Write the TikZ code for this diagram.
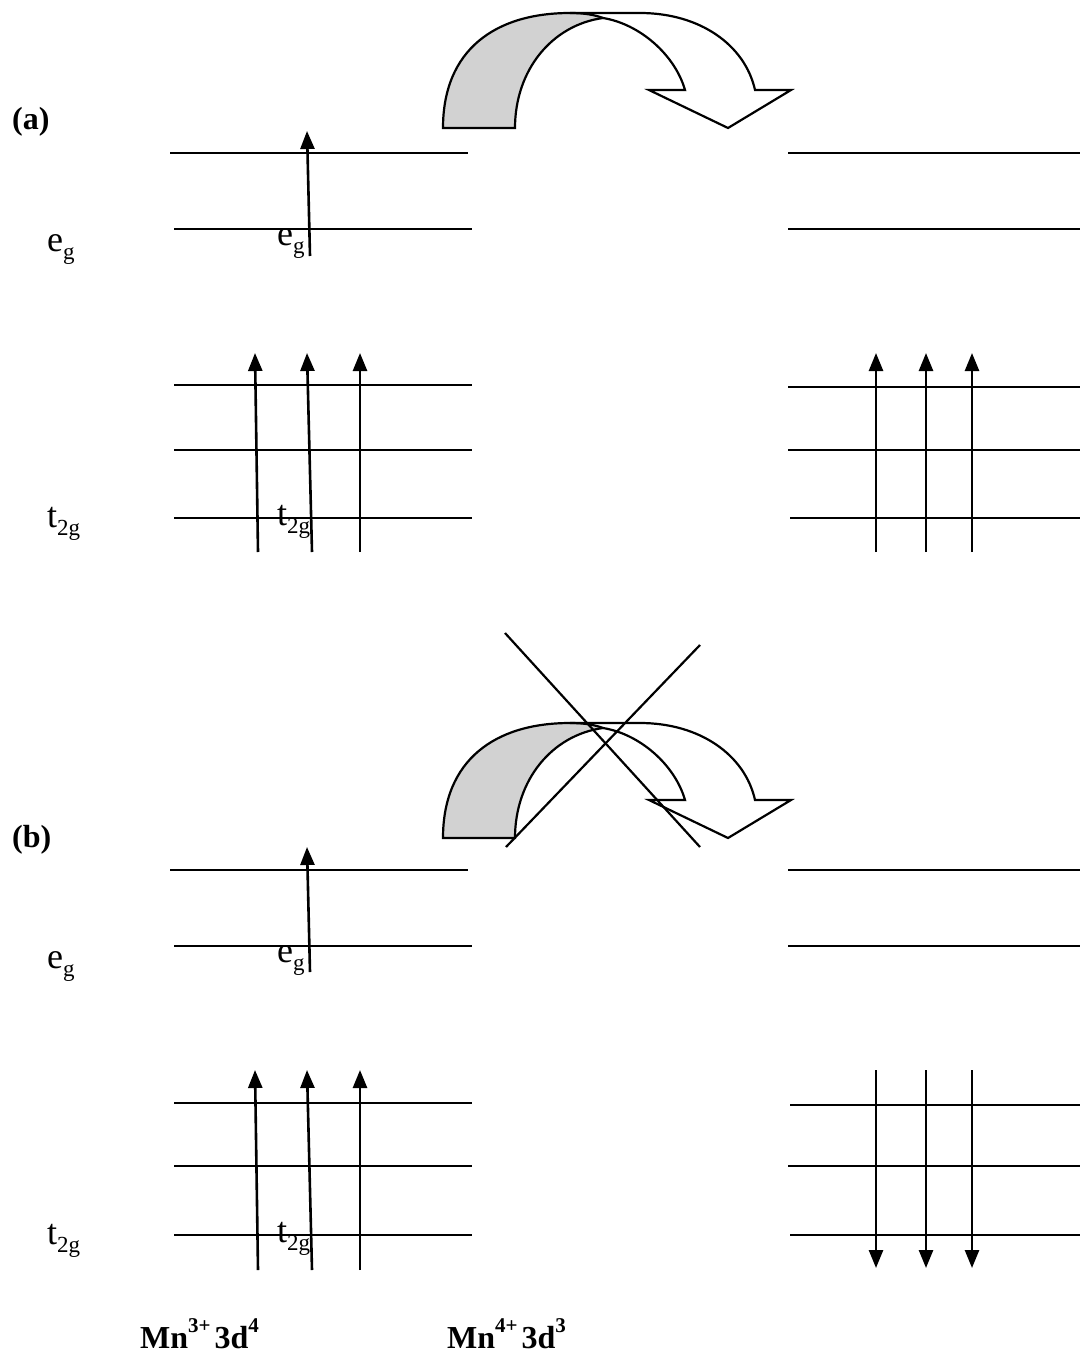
\documentclass[tikz,border=0pt]{standalone}
\usepackage{fontspec}
\setmainfont{Liberation Serif}
\usetikzlibrary{arrows.meta}
\newcommand\lsub[1]{\raisebox{-0.24em}{\fontsize{23}{23}\selectfont #1}}
\newcommand\lsup[1]{\raisebox{0.5em}{\fontsize{21}{21}\selectfont #1}}
\begin{document}
\begin{tikzpicture}[x=1pt,y=-1pt,
  lvl/.style={line width=2.4pt},
  spin/.style={line width=2.6pt,-{Triangle[width=14pt,length=18pt]}},
  lbl/.style={inner sep=0pt,anchor=base west,font=\fontsize{36}{40}\selectfont},
  bl/.style={inner sep=0pt,anchor=base west,font=\fontsize{32}{36}\selectfont\bfseries},
  band/.style={line width=2.2pt,line join=miter},
  hop/.pic={
    \fill[gray!35] (443,128) .. controls (443,50) and (495,13) .. (570,13)
      .. controls (585,13) and (595,15) .. (603,18)
      .. controls (552,25) and (515,70) .. (515,128) -- cycle;
    \draw[band] (603,18) .. controls (640,24) and (675,55) .. (685,90)
      -- (649,90) -- (728,128) -- (791,90) -- (755,90)
      .. controls (745,45) and (700,13) .. (640,13) -- (570,13)
      .. controls (495,13) and (443,50) .. (443,128) -- (515,128)
      .. controls (515,70) and (552,25) .. (603,18);
    \draw[band] (570,13) .. controls (585,13) and (595,15) .. (603,18);
  }]
\useasboundingbox (0,0) rectangle (1080,1357);

% ---------- (a) ----------
\pic at (0,0) {hop};
\node[bl] (la) at (12,129) {(a)};

\foreach \n/\xa/\xb/\y in {a1/170/468/153, a2/174/472/229, a3/174/472/385, a4/174/472/450, a5/174/472/518,
  b1/170/468/870, b2/174/472/946, b3/174/472/1103, b4/174/472/1166, b5/174/472/1235}
  \draw[lvl] (\xa,\y) coordinate (L\n s) -- (\xb,\y) coordinate (L\n e);
\foreach \n/\xa/\y in {a1/788/153, a2/788/229, a3/788/387, a4/788/450, a5/790/518,
  b1/788/870, b2/788/946, b3/790/1105, b4/788/1166, b5/790/1235}
  \draw[lvl] (\xa,\y) coordinate (R\n s) -- (1080,\y) coordinate (R\n e);

\node[lbl] (ega) at (47,251) {e\lsub{g}};
\node[lbl] (egai) at (277,245) {e\lsub{g}};
\node[lbl] (tga) at (47,527) {t\lsub{2g}};
\node[lbl] (tgai) at (277,525) {t\lsub{2g}};

% spins (a)
\coordinate (sa0s) at (310,256); \coordinate (sa0e) at (307,131);
\coordinate (sa1s) at (258,552); \coordinate (sa1e) at (255,353);
\coordinate (sa2s) at (312,552); \coordinate (sa2e) at (307,353);
\coordinate (sa3s) at (360,552); \coordinate (sa3e) at (360,353);
\coordinate (ra1s) at (876,552); \coordinate (ra1e) at (876,353);
\coordinate (ra2s) at (926,552); \coordinate (ra2e) at (926,353);
\coordinate (ra3s) at (972,552); \coordinate (ra3e) at (972,353);
\foreach \s in {sa0,sa1,sa2,sa3,ra1,ra2,ra3}
  \draw[spin] (\s s) -- (\s e);

% ---------- (b) ----------
\pic at (0,710) {hop};
\coordinate (x1s) at (505,633); \coordinate (x1e) at (700,847);
\coordinate (x2s) at (506,847); \coordinate (x2e) at (700,645);
\draw[line width=2.2pt] (x1s) -- (x1e);
\draw[line width=2.2pt] (x2s) -- (x2e);
\node[bl] (lb) at (12,847) {(b)};

\node[lbl] (egb) at (47,968) {e\lsub{g}};
\node[lbl] (egbi) at (277,962) {e\lsub{g}};
\node[lbl] (tgb) at (47,1244) {t\lsub{2g}};
\node[lbl] (tgbi) at (277,1242) {t\lsub{2g}};

\coordinate (sb0s) at (310,972); \coordinate (sb0e) at (307,847);
\coordinate (sb1s) at (258,1270); \coordinate (sb1e) at (255,1070);
\coordinate (sb2s) at (312,1270); \coordinate (sb2e) at (307,1070);
\coordinate (sb3s) at (360,1270); \coordinate (sb3e) at (360,1070);
\coordinate (rb1s) at (876,1070); \coordinate (rb1e) at (876,1268);
\coordinate (rb2s) at (926,1070); \coordinate (rb2e) at (926,1268);
\coordinate (rb3s) at (972,1070); \coordinate (rb3e) at (972,1268);
\foreach \s in {sb0,sb1,sb2,sb3,rb1,rb2,rb3}
  \draw[spin] (\s s) -- (\s e);

\node[bl] (mn3) at (140,1348) {Mn\lsup{3+}\hspace{0.12em}3d\lsup{4}};
\node[bl] (mn4) at (447,1348) {Mn\lsup{4+}\hspace{0.12em}3d\lsup{3}};
\end{tikzpicture}
\end{document}
